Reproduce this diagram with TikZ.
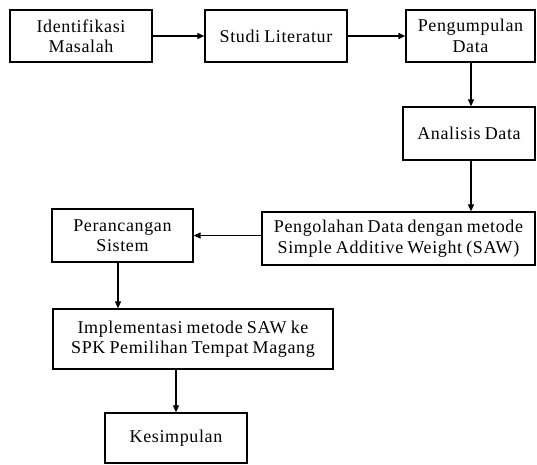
\documentclass[tikz,border=0pt]{standalone}
\usepackage{fontspec}
\setmainfont{Liberation Serif}[LetterSpace=3.5,WordSpace=0.8]
\usetikzlibrary{arrows.meta}
\begin{document}
\begin{tikzpicture}[x=1pt,y=-1pt,
  box/.style={draw=black,line width=1.3pt,rectangle,inner sep=0pt,align=center,
    font=\fontsize{18}{20.5}\selectfont},
  arr/.style={line width=1.2pt,-{Triangle[length=7pt,width=6pt]}}]
\useasboundingbox (0,0) rectangle (537,464);
\node[box,minimum width=142pt,minimum height=52pt] (b1) at (81,36) {Identifikasi\\Masalah};
\node[box,minimum width=142pt,minimum height=52pt] (b2) at (276,36) {Studi Literatur};
\node[box,minimum width=129pt,minimum height=52pt] (b3) at (470.5,36) {Pengumpulan\\Data};
\node[box,minimum width=132pt,minimum height=53pt] (b4) at (469,133.5) {Analisis Data};
\node[box,minimum width=273pt,minimum height=53pt] (b5) at (398.5,238.5) {Pengolahan Data dengan metode\\Simple Additive Weight (SAW)};
\node[box,minimum width=141pt,minimum height=53pt] (b6) at (122.5,235.5) {Perancangan\\Sistem};
\node[box,minimum width=280pt,minimum height=60pt] (b7) at (193,339) {Implementasi metode SAW ke\\SPK Pemilihan Tempat Magang};
\node[box,minimum width=142pt,minimum height=50pt] (b8) at (176,438) {Kesimpulan};
\coordinate (c4) at (471,0);
\coordinate (c6) at (118,0);
\draw[arr] (b1.east) -- (b2.west);
\draw[arr] (b2.east) -- (b3.west);
\draw[arr] (c4 |- b3.south) -- (c4 |- b4.north);
\draw[arr] (c4 |- b4.south) -- (c4 |- b5.north);
\draw[arr] (b5.west |- b6.east) -- (b6.east);
\draw[arr] (c6 |- b6.south) -- (c6 |- b7.north);
\draw[arr] (b8.north |- b7.south) -- (b8.north);
\end{tikzpicture}
\end{document}
